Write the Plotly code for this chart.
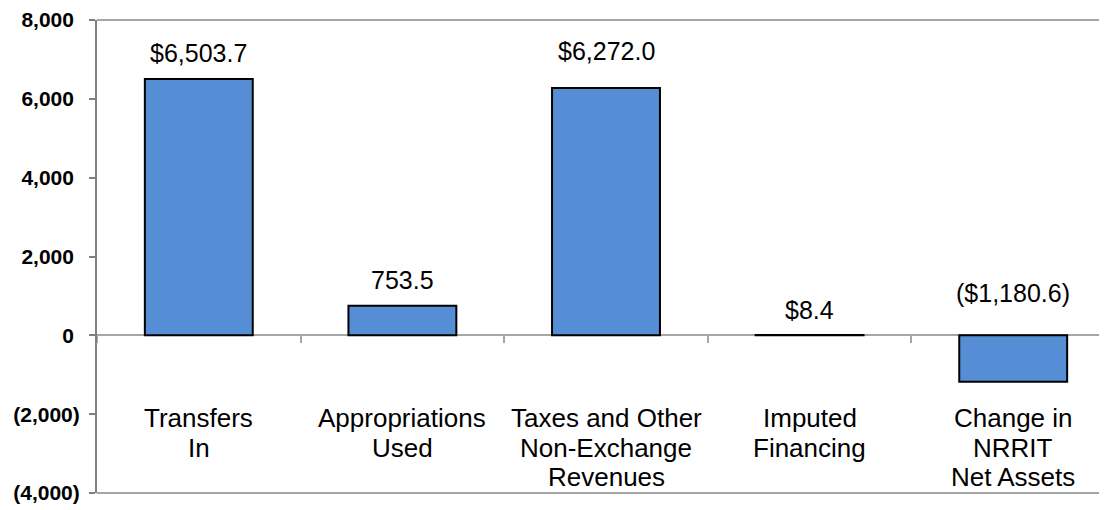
import plotly.graph_objects as go

categories = ["Transfers In", "Appropriations Used", "Taxes and Other Non-Exchange Revenues",
              "Imputed Financing", "Change in NRRIT Net Assets"]
category_lines = [["Transfers", "In"], ["Appropriations", "Used"],
                  ["Taxes and Other", "Non-Exchange", "Revenues"],
                  ["Imputed", "Financing"], ["Change in", "NRRIT", "Net Assets"]]
values = [6503.7, 753.5, 6272.0, 8.4, -1180.6]
value_labels = ["$6,503.7", "753.5", "$6,272.0", "$8.4", "($1,180.6)"]
tick_vals = [-4000, -2000, 0, 2000, 4000, 6000, 8000]
tick_text = ["(4,000)", "(2,000)", "0\u00a0", "2,000\u00a0", "4,000\u00a0", "6,000\u00a0", "8,000\u00a0"]

FONT = "Arial, Liberation Sans, sans-serif"
W, H = 1107, 510
PAGE_OFF = 8  # default body margin of the html page
PLOT_TOP, PLOT_BOTTOM, PLOT_LEFT = 20, 493, 97  # target page pixels
L = PLOT_LEFT - PAGE_OFF
T = PLOT_TOP - PAGE_OFF
B = H - (PLOT_BOTTOM - PAGE_OFF)
R = 0
plot_h = PLOT_BOTTOM - PLOT_TOP

fig = go.Figure()
fig.add_trace(go.Bar(
    x=categories, y=values,
    marker=dict(color="#558ED5", line=dict(color="#000000", width=2)),
    hoverinfo="x+y",
))

# value labels
label_shift = [27, 27, 38, 26, 43]
for c, v, t, s in zip(categories, values, value_labels, label_shift):
    fig.add_annotation(x=c, y=max(v, 0), text=t, showarrow=False,
                       xref="x", yref="y", yanchor="middle", yshift=s - 1,
                       font=dict(family=FONT, size=25, color="#000000"))

# category labels (each line placed separately to match line pitch)
line_px = [418, 448, 477]
for c, lines in zip(categories, category_lines):
    for i, ln in enumerate(lines):
        py = line_px[i]
        fig.add_annotation(x=c, y=(PLOT_BOTTOM - py) / plot_h, text=ln, showarrow=False,
                           xref="x", yref="paper", yanchor="middle",
                           font=dict(family=FONT, size=26, color="#000000"))

# top and bottom border lines
for yy in (0, 1):
    fig.add_shape(type="line", xref="paper", yref="paper", x0=0, x1=1, y0=yy, y1=yy,
                  line=dict(color="#A6A6A6", width=2), layer="below")

fig.update_layout(
    width=W, height=H,
    margin=dict(l=L, r=R, t=T, b=B, autoexpand=False),
    plot_bgcolor="white", paper_bgcolor="white",
    showlegend=False, bargap=0.47,
    font=dict(family=FONT, color="#000000"),
)
fig.update_xaxes(
    type="category", range=[-0.5, 4.5],
    anchor="free", position=4000 / 12000,
    showline=True, linecolor="#A6A6A6", linewidth=2, layer="below traces",
    ticks="outside", tickson="boundaries", ticklen=7, tickcolor="#A6A6A6", tickwidth=2,
    showticklabels=False, showgrid=False, zeroline=False, automargin=False,
)
fig.update_yaxes(
    range=[-4000, 8000], tickvals=tick_vals, ticktext=tick_text,
    showline=True, linecolor="#808080", linewidth=2,
    ticks="outside", ticklen=6, tickcolor="#808080", tickwidth=2,
    tickfont=dict(family=FONT, size=21, color="#000000", weight="bold"),
    showgrid=False, zeroline=False, ticklabelstandoff=5, automargin=False,
)

fig.write_html("out.html")
